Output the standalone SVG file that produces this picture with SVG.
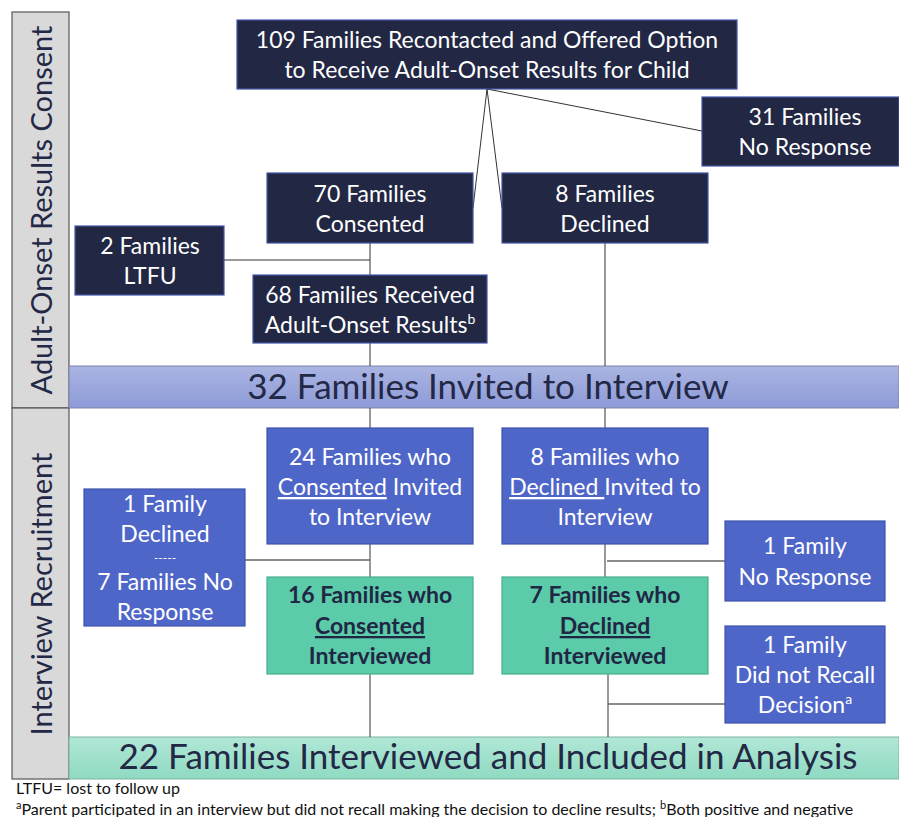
<svg xmlns="http://www.w3.org/2000/svg" width="899" height="817" viewBox="0 0 899 817">
<style>
text{font-family:Lato,"Liberation Sans",sans-serif;}
.side{fill:#d9d9d9;stroke:#555;stroke-width:1.2}
.sidet{font-size:29px;fill:#222845;text-anchor:middle}
.dark{fill:#222744;stroke:#4356a8;stroke-width:1.2}
.blue{fill:#4f66c9;stroke:#3e52ad;stroke-width:1.2}
.green{fill:#5ccba9;stroke:#47b08f;stroke-width:1.2}
.wt{font-size:23px;fill:#fff;text-anchor:middle}
.dash{font-size:12px;fill:#fff;text-anchor:middle}
.gt{font-size:23px;fill:#1f2744;text-anchor:middle;font-weight:bold}
.bt{font-size:35px;fill:#222845;text-anchor:middle}
.ln{stroke:#333;stroke-width:1;fill:none}
.ln2{stroke:#666;stroke-width:1.6;fill:none}
.foot{font-size:16px;fill:#111}
</style>
<defs>
<linearGradient id="gBlue" x1="0" y1="0" x2="0" y2="1">
<stop offset="0" stop-color="#aab5e2"/><stop offset="1" stop-color="#8d9ad7"/>
</linearGradient>
<linearGradient id="gGreen" x1="0" y1="0" x2="0" y2="1">
<stop offset="0" stop-color="#b1e7d6"/><stop offset="1" stop-color="#8fdac2"/>
</linearGradient>
</defs>
<rect width="899" height="817" fill="#fff"/>

<g id="sidebar-consent">
<rect class="side" x="12" y="12" width="57" height="396"/>
<text class="sidet" transform="translate(52,210) rotate(-90)">Adult-Onset Results Consent</text>
</g>
<g id="sidebar-interview">
<rect class="side" x="12" y="408" width="57" height="371"/>
<text class="sidet" transform="translate(52,594) rotate(-90)">Interview Recruitment</text>
</g>

<g id="banner-invited">
<rect x="69" y="366" width="830" height="42" fill="url(#gBlue)" stroke="#7f86a8" stroke-width="1"/>
<text class="bt" x="488" y="399">32 Families Invited to Interview</text>
</g>
<g id="banner-analysis">
<rect x="69" y="737" width="830" height="42" fill="url(#gGreen)" stroke="#7fb3a0" stroke-width="1"/>
<text class="bt" x="488" y="769">22 Families Interviewed and Included in Analysis</text>
</g>

<g id="connectors">
<path class="ln" d="M487,89 L473,208 M487,89 L502,208 M487,89 L702,131"/>
<path class="ln" d="M370,243 V275 M224,260 H370 M370,343 V366 M605,243 V366"/>
<path class="ln" d="M370,408 V428 M605,408 V428"/>
<path class="ln" d="M370,544 V577 M370,674 V737"/>
<path class="ln2" d="M245,560 H370"/>
<path class="ln" d="M605,544 V577"/>
<path class="ln2" d="M607,561 H725"/>
<path class="ln" d="M608,674 V737"/>
<path class="ln2" d="M608,704 H725"/>
</g>

<g id="n-recontacted">
<rect class="dark" x="237" y="20" width="500" height="69"/>
<text class="wt" x="487" y="48">109 Families Recontacted and Offered Option</text>
<text class="wt" x="487" y="78">to Receive Adult-Onset Results for Child</text>
</g>
<g id="n-noresponse31">
<rect class="dark" x="702" y="97" width="197" height="69"/>
<text class="wt" x="805" y="125">31 Families</text>
<text class="wt" x="805" y="155">No Response</text>
</g>
<g id="n-consented70">
<rect class="dark" x="267" y="173" width="206" height="70"/>
<text class="wt" x="370" y="202">70 Families</text>
<text class="wt" x="370" y="232">Consented</text>
</g>
<g id="n-declined8">
<rect class="dark" x="502" y="173" width="206" height="70"/>
<text class="wt" x="605" y="202">8 Families</text>
<text class="wt" x="605" y="232">Declined</text>
</g>
<g id="n-ltfu">
<rect class="dark" x="75" y="226" width="149" height="69"/>
<text class="wt" x="150" y="254">2 Families</text>
<text class="wt" x="150" y="284">LTFU</text>
</g>
<g id="n-received68">
<rect class="dark" x="253" y="275" width="234" height="68"/>
<text class="wt" x="370" y="303">68 Families Received</text>
<text class="wt" x="370" y="333">Adult-Onset Results<tspan font-size="14" dy="-9">b</tspan></text>
</g>

<g id="n-consented24">
<rect class="blue" x="267" y="428" width="206" height="116"/>
<text class="wt" x="370" y="465">24 Families who</text>
<text class="wt" x="370" y="495"><tspan text-decoration="underline">Consented</tspan> Invited</text>
<text class="wt" x="370" y="525">to Interview</text>
</g>
<g id="n-declined8inv">
<rect class="blue" x="502" y="428" width="206" height="116"/>
<text class="wt" x="605" y="465">8 Families who</text>
<text class="wt" x="605" y="495" xml:space="preserve"><tspan text-decoration="underline">Declined </tspan>Invited to</text>
<text class="wt" x="605" y="525">Interview</text>
</g>
<g id="n-declined1">
<rect class="blue" x="84" y="489" width="161" height="137"/>
<text class="wt" x="165" y="512">1 Family</text>
<text class="wt" x="165" y="542">Declined</text>
<text class="dash" x="165" y="562">-----</text>
<text class="wt" x="165" y="590">7 Families No</text>
<text class="wt" x="165" y="620">Response</text>
</g>
<g id="n-noresponse1">
<rect class="blue" x="725" y="521" width="160" height="80"/>
<text class="wt" x="805" y="554">1 Family</text>
<text class="wt" x="805" y="585">No Response</text>
</g>
<g id="n-norecall1">
<rect class="blue" x="725" y="626" width="160" height="97"/>
<text class="wt" x="805" y="653">1 Family</text>
<text class="wt" x="805" y="683">Did not Recall</text>
<text class="wt" x="805" y="713">Decision<tspan font-size="14" dy="-9">a</tspan></text>
</g>
<g id="n-interviewed16">
<rect class="green" x="267" y="577" width="206" height="97"/>
<text class="gt" x="370" y="603">16 Families who</text>
<text class="gt" x="370" y="634" text-decoration="underline">Consented</text>
<text class="gt" x="370" y="664">Interviewed</text>
</g>
<g id="n-interviewed7">
<rect class="green" x="502" y="577" width="206" height="97"/>
<text class="gt" x="605" y="603">7 Families who</text>
<text class="gt" x="605" y="634" text-decoration="underline">Declined</text>
<text class="gt" x="605" y="664">Interviewed</text>
</g>

<g id="footnotes">
<text class="foot" x="16" y="794">LTFU= lost to follow up</text>
<text class="foot" x="16" y="815"><tspan font-size="11" dy="-6">a</tspan><tspan dy="6">Parent participated in an interview but did not recall making the decision to decline results; </tspan><tspan font-size="11" dy="-6">b</tspan><tspan dy="6">Both positive and negative</tspan></text>
</g>
</svg>
